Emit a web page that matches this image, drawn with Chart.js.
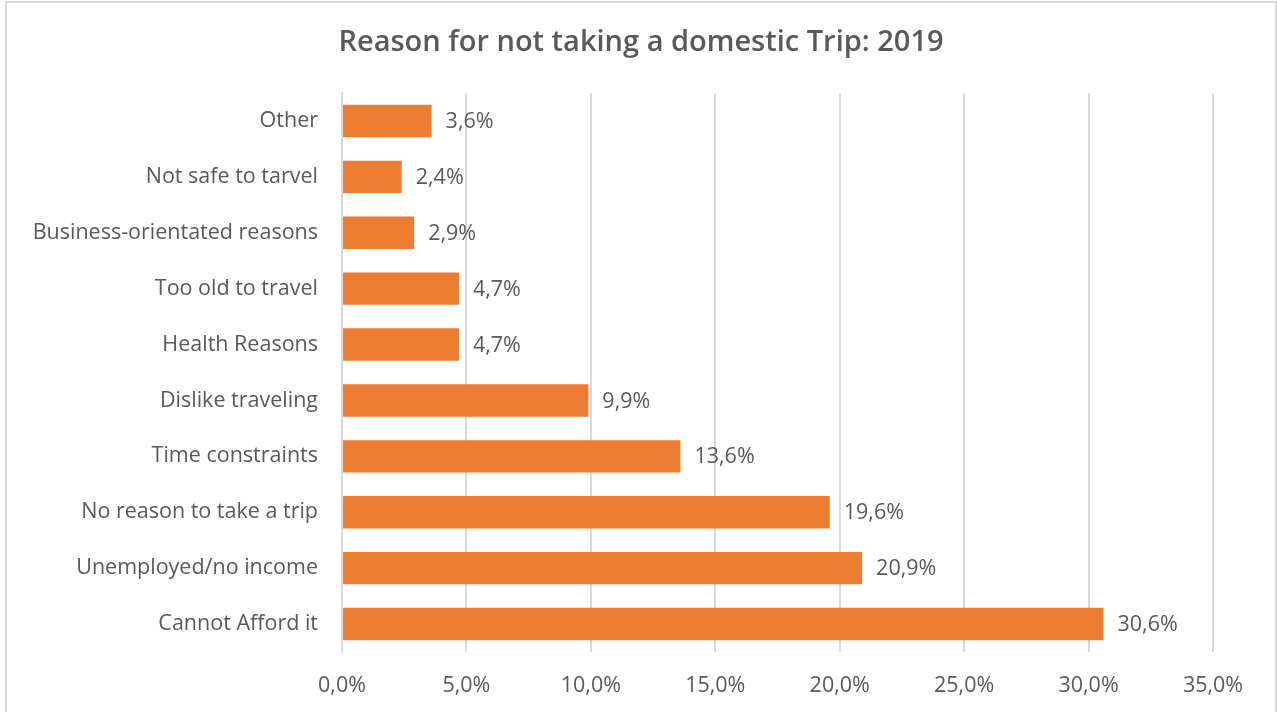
<!DOCTYPE html>
<html>
<head>
<meta charset="utf-8">
<script src="https://cdn.jsdelivr.net/npm/chart.js@4/dist/chart.umd.min.js"></script>
<style>
  html, body { margin: 0; padding: 0; background: #fff; }
  #wrap { position: relative; width: 1277px; height: 712px; }
  canvas { display: block; }
</style>
</head>
<body>
<div id="wrap"><canvas id="c" width="1277" height="712"></canvas></div>
<script>
const categories = [
  "Other",
  "Not safe to tarvel",
  "Business-orientated reasons",
  "Too old to travel",
  "Health Reasons",
  "Dislike traveling",
  "Time constraints",
  "No reason to take a trip",
  "Unemployed/no income",
  "Cannot Afford it"
];
const values = [3.6, 2.4, 2.9, 4.7, 4.7, 9.9, 13.6, 19.6, 20.9, 30.6];
const xTicks = [0, 5, 10, 15, 20, 25, 30, 35];
const titleText = "Reason for not taking a domestic Trip: 2019";

const FONT = "'Open Sans', 'Segoe UI', sans-serif";
const TEXT = "#595959";
const GRID = "#D9D9D9";
const LABEL_SIZE = 21.5;
const fmt = v => v.toFixed(1).replace('.', ',') + '%';

const frame = {
  id: 'frame',
  beforeDraw(chart) {
    const ctx = chart.ctx;
    ctx.save();
    ctx.fillStyle = '#fff';
    ctx.fillRect(0, 0, chart.width, chart.height);
    ctx.strokeStyle = GRID;
    ctx.lineWidth = 2;
    ctx.strokeRect(6, 2, chart.width - 7, chart.height + 10);
    ctx.restore();
  },
  afterDraw(chart) {
    const ctx = chart.ctx;
    ctx.save();
    ctx.font = "600 29px " + FONT;
    ctx.fillStyle = TEXT;
    ctx.textAlign = 'center';
    ctx.textBaseline = 'middle';
    ctx.fillText(titleText, 641, 43);
    ctx.restore();
  }
};

const valueLabels = {
  id: 'valueLabels',
  afterDatasetsDraw(chart) {
    const ctx = chart.ctx;
    const meta = chart.getDatasetMeta(0);
    ctx.save();
    ctx.font = LABEL_SIZE + "px " + FONT;
    ctx.fillStyle = TEXT;
    ctx.textAlign = 'left';
    ctx.textBaseline = 'middle';
    meta.data.forEach((bar, i) => {
      ctx.fillText(fmt(values[i]), bar.x + 14, bar.y + 1);
    });
    ctx.restore();
  }
};

new Chart(document.getElementById('c'), {
  type: 'bar',
  data: {
    labels: categories,
    datasets: [{
      data: values,
      backgroundColor: '#ED7D31',
      borderWidth: 0,
      barPercentage: 0.58,
      categoryPercentage: 1
    }]
  },
  options: {
    indexAxis: 'y',
    responsive: false,
    animation: false,
    devicePixelRatio: 1,
    layout: { padding: { top: 93, left: 0, right: 64, bottom: 0 } },
    plugins: {
      legend: { display: false },
      tooltip: { enabled: false },
      title: { display: false }
    },
    scales: {
      x: {
        min: 0, max: 35,
        afterBuildTicks(scale) { scale.ticks = xTicks.map(v => ({ value: v })); },
        ticks: {
          callback: v => fmt(v),
          color: TEXT,
          font: { family: FONT, size: LABEL_SIZE },
          padding: 21,
          maxRotation: 0
        },
        grid: { color: GRID, lineWidth: 2, drawTicks: false },
        border: { display: false },
        afterFit(scale) { scale.height = 60; }
      },
      y: {
        ticks: {
          color: TEXT,
          font: { family: FONT, size: LABEL_SIZE },
          padding: 24
        },
        grid: { display: false, drawTicks: false },
        border: { display: true, color: GRID, width: 2 },
        afterFit(scale) { scale.width = 342; }
      }
    }
  },
  plugins: [frame, valueLabels]
});
</script>
</body>
</html>
